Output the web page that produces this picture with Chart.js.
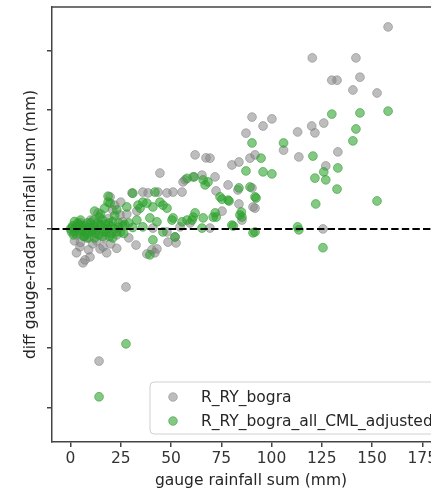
<!DOCTYPE html>
<html>
<head>
<meta charset="utf-8">
<script src="https://cdn.jsdelivr.net/npm/chart.js@4.4.1/dist/chart.umd.min.js"></script>
<style>
html, body { margin: 0; padding: 0; overflow: hidden; background: #fff; width: 431px; height: 492px; }
#wrap { width: 470px; height: 492px; position: relative; }
</style>
</head>
<body>
<div id="wrap"><canvas id="c"></canvas></div>
<script>
// ---- data ----
const seriesLabels = ["R_RY_bogra", "R_RY_bogra_all_CML_adjusted"];
const xTicks = [0, 25, 50, 75, 100, 125, 150, 175];
const yTicks = [-60, -40, -20, 0, 20, 40, 60];
const xLimits = [-9.2, 188.8];
const yLimits = [-71.6, 74.6];

const radarX = [158, 120.3, 142, 130, 132.6, 144, 140.5, 152.5, 90.3, 95.8, 100.2, 87.3, 113, 120, 121.6, 126,
  106, 113.6, 133, 127, 69.4, 80.3, 83.8, 89.3, 91.8, 71.9, 78.4, 72.4, 83.8, 91.8, 75.4, 85.3, 125.6,
  62, 67.4, 44.5, 56, 61, 65.4, 30.6, 38.6, 43.5, 48, 51, 19.7, 6.2, 9.7, 4.7, 14.7, 16.2, 32.6, 38,
  40.5, 43, 48.5, 52.5, 27.6, 14.2, 7.2, 13.7, 21, 26, 24.6, 41, 48, 52, 54.5, 42, 57, 90.3, 83.3,
  90.8, 59.5, 69.4, 36, 55.5, 22, 1, 3, 5, 8, 10, 12, 15, 17, 19, 11, 2, 18, 23, 28, 25, 33, 29,
  3, 5, 9, 13, 20, 23];
const radarY = [67.9, 57.5, 57.5, 50, 50, 51, 46.7, 45.7, 37.6, 34.6, 37, 32.2, 32.6, 34.6, 32.3, 35.6,
  26.5, 24.2, 25.9, 21.2, 23.8, 21.5, 22.5, 23.8, 24.9, 17.5, 14.8, 12.8, 8.4, 7, 6, 3, 0,
  24.9, 23.9, 18.8, 15.8, 17.5, 18.1, 12.1, 12.1, 12.4, 12.1, 12.4, 10.8, -11.4, -9.4, -6, -6.7, -6, -5.4, -8.4,
  -7, -6.7, -4.4, -4.7, -19.5, -44.4, -10.4, 5.4, 6.4, 2.4, 4.7, 0.3, -1, -2.7, 0.7, -8, 16.5, 13.8, 13.1,
  7.4, 2, 0.3, 12.4, 12.4, 8, 0.5, -2, 2, -3, 3, -1, 1, -3, 3.5, -5, -4, -8, -2, 5, 9, 6, -3,
  -8, -4.5, -7, -4, -5, -6.5];

const adjustedX = [158, 130, 144, 142, 140.5, 90.3, 106, 120.6, 94.8, 87.3, 95.8, 100.2, 126, 133, 121.6, 127,
  89.3, 83.8, 132.6, 92.3, 75.4, 78.9, 122, 152.5, 72, 72.5, 85, 85.3, 81, 91.8, 113, 113.6, 125.6,
  61.5, 67, 31, 18.7, 42, 44.5, 48, 36, 34.6, 28, 23, 50.5, 55.5, 61, 66, 21, 41, 52, 27.6, 14.2,
  18.7, 19.7, 33.6, 38, 41, 46, 39.5, 43, 51, 58, 36, 46, 39.5, 58, 66, 68.4, 74.4, 78.4, 62, 84.3,
  60.5, 71, 65.4, 80.3, 90.8, 91.8,
  0, 1, 2, 3, 4, 5, 6, 7, 8, 9, 10, 11, 12, 13, 14, 15, 16, 17, 18, 19, 20, 22, 24, 25, 26,
  1.5, 3.5, 6.5, 11.5, 14.5, 9, 5, 29, 31, 33,
  0.5, 2.5, 4.5, 5.5, 7.5, 8.5, 9.5, 10.5, 12.5, 13.5, 16.5, 17.5, 18.5, 20.5, 21, 23, 24, 26.5, 27,
  2, 7, 12, 16, 19.5, 15, 17, 12, 22];
const adjustedY = [39.6, 38.6, 39, 33.6, 29.6, 28.9, 28.9, 24.5, 23.8, 19.5, 19.2, 18.5, 19.2, 20.5, 17.1, 16.5,
  14.1, 13.8, 13.4, 10.4, 10, 9.4, 8.4, 9.4, 5.4, 4, 5.7, 4, 1, -1, 0.7, -0.3, -6.3,
  17.5, 14.8, 12, 9, 12.4, 9, 7, 9, 7, 7.4, 6.4, 3, 2.4, 4, 3.7, -3, -3.7, -2.7, -38.6, -56.4,
  11, 8.7, 8, 8.7, 7.4, 8, 3.7, 2.4, 3.7, 3, 0.7, -1, -8.7, 17, 16.5, 15.8, 10.8, 9.7, 5.4, 4.7,
  3, 4, 0.3, 1.3, -1.3, 10.8,
  0, 1, -1, 0.5, 1.5, -0.5, 0, 1, -1.5, 0.5, 2, -0.5, 1, 0, -2, 1.5, 3, 0, -1, 2, 1, 0, 2, -1, 1,
  -2, 2, -2.5, 3, 4, -3, 3, 2, 0.5, 3,
  -1, 0.5, -1.5, 1, -0.5, 2, -1, 0, -1.5, 2, -1, 1.5, 0, -1.5, 2.5, -1, 0.5, -1.5, 1.5,
  2.5, -2.5, -3, -2.5, -2.5, 5, 7, 6, 4.5];

// ---- build ----
const toPoints = (xs, ys) => xs.map((x, i) => ({ x: x, y: ys[i] }));
const grayFill = 'rgba(128,128,128,0.52)';
const greenFill = 'rgba(44,160,44,0.58)';
const FONT = "'DejaVu Sans', sans-serif";
const FS = 15.5;
const axisColor = '#444';

const legendPlugin = {
  id: 'innerLegend',
  afterDraw(chart) {
    const ctx = chart.ctx;
    const bx = 150, by = 382, bw = 340, bh = 52, r = 4;
    ctx.save();
    ctx.beginPath();
    ctx.roundRect(bx, by, bw, bh, r);
    ctx.fillStyle = 'rgba(255,255,255,0.85)';
    ctx.fill();
    ctx.strokeStyle = '#d0d0d0';
    ctx.lineWidth = 1;
    ctx.stroke();
    const items = [chart.data.datasets[1], chart.data.datasets[2]];
    const ys = [397, 421];
    items.forEach((ds, i) => {
      ctx.beginPath();
      ctx.arc(173, ys[i], 4.3, 0, Math.PI * 2);
      ctx.fillStyle = ds.backgroundColor;
      ctx.fill();
      ctx.strokeStyle = ds.borderColor;
      ctx.lineWidth = 1;
      ctx.stroke();
      ctx.fillStyle = '#262626';
      ctx.font = FS + "px " + FONT;
      ctx.textBaseline = 'middle';
      ctx.textAlign = 'left';
      ctx.fillText(ds.label, 201, ys[i] + 1);
    });
    ctx.restore();
  }
};

const topSpine = {
  id: 'topSpine',
  afterDraw(chart) {
    const a = chart.chartArea, ctx = chart.ctx;
    ctx.save();
    ctx.strokeStyle = axisColor;
    ctx.lineWidth = 1.5;
    ctx.beginPath();
    ctx.moveTo(a.left, a.top);
    ctx.lineTo(a.right, a.top);
    ctx.lineTo(a.right, a.bottom);
    ctx.stroke();
    ctx.restore();
  }
};

new Chart(document.getElementById('c'), {
  type: 'scatter',
  data: {
    datasets: [
      {
        label: 'zero',
        data: [{ x: xLimits[0], y: 0 }, { x: xLimits[1], y: 0 }],
        showLine: true,
        borderColor: '#000',
        borderWidth: 2,
        borderDash: [7.4, 3.2],
        pointRadius: 0,
        order: 0
      },
      {
        label: seriesLabels[0],
        data: toPoints(radarX, radarY),
        backgroundColor: grayFill,
        borderColor: grayFill,
        borderWidth: 1,
        pointRadius: 4.4,
        order: 2
      },
      {
        label: seriesLabels[1],
        data: toPoints(adjustedX, adjustedY),
        backgroundColor: greenFill,
        borderColor: greenFill,
        borderWidth: 1,
        pointRadius: 4.4,
        order: 1
      }
    ]
  },
  options: {
    responsive: true,
    maintainAspectRatio: false,
    animation: false,
    layout: { padding: { left: 0, top: 7, right: 20, bottom: 0 } },
    plugins: { legend: { display: false }, tooltip: { enabled: false } },
    scales: {
      x: {
        type: 'linear',
        min: xLimits[0], max: xLimits[1],
        afterBuildTicks: s => { s.ticks = xTicks.map(v => ({ value: v })); },
        afterFit: s => { s.height = 50; },
        grid: { drawOnChartArea: false, drawTicks: true, tickLength: 5, color: axisColor, lineWidth: 1.5 },
        border: { display: true, color: axisColor, width: 1.5 },
        ticks: { color: '#333', font: { family: FONT, size: FS }, padding: 3, maxRotation: 0, autoSkip: false },
        title: { display: true, text: 'gauge rainfall sum (mm)', color: '#262626', font: { family: FONT, size: FS }, padding: { top: 0, bottom: 1.7 } }
      },
      y: {
        type: 'linear',
        min: yLimits[0], max: yLimits[1],
        afterBuildTicks: s => { s.ticks = yTicks.map(v => ({ value: v })); },
        afterFit: s => { s.width = 52; s.paddingTop = 0; s.paddingBottom = 0; },
        grid: { drawOnChartArea: false, drawTicks: true, tickLength: 5, color: axisColor, lineWidth: 1.5 },
        border: { display: true, color: axisColor, width: 1.5 },
        ticks: { color: 'rgba(0,0,0,0)', padding: 0, font: { family: FONT, size: 1 } },
        title: { display: true, text: 'diff gauge-radar rainfall sum (mm)', color: '#262626', font: { family: FONT, size: FS }, padding: { top: 21.7, bottom: 0 } }
      }
    }
  },
  plugins: [topSpine, legendPlugin]
});
</script>
</body>
</html>
